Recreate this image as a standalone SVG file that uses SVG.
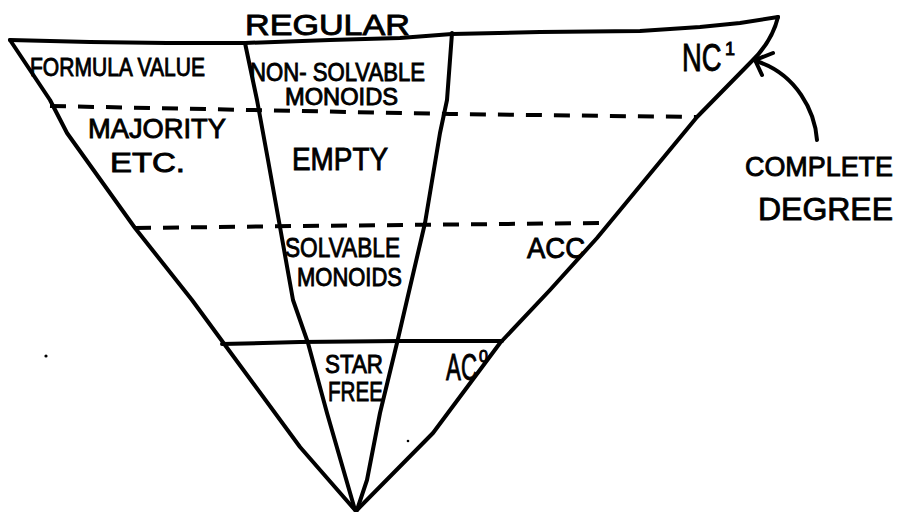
<svg xmlns="http://www.w3.org/2000/svg" width="903" height="514" viewBox="0 0 903 514">
<style>
.ln{fill:none;stroke:#000;stroke-width:4;stroke-linecap:round;stroke-linejoin:round}
.dash{fill:none;stroke:#000;stroke-width:4;stroke-dasharray:16 12;stroke-linecap:butt}
text{font-family:"Liberation Sans",Arial,sans-serif;fill:#000;stroke:#000;stroke-width:0.9}
</style>
<rect width="903" height="514" fill="#fff"/>
<g id="outline">
<polyline class="ln" points="10,40 90,42 167,43 245,43 330,40 400,38 452,34 540,32 640,31 700,27 740,23 778,17"/>
<path class="ln" d="M778,17 Q772,42 750,63 L697,117 L597,238 L550,290 L500,343 L433,433 L357,510"/>
<polyline class="ln" points="10,40 50,100 67,133 135,228 192,300 225,345 300,447 355,510"/>
<polyline class="ln" points="245,43 257,100 268,160 280,227 293,300 308,343 327,413 355,510"/>
<polyline class="ln" points="452,33 447,100 440,133 425,223 407,300 397,343 380,413 367,480 357,510"/>
<polyline class="dash" points="50,106 250,110 450,114 697,117"/>
<polyline class="dash" points="135,228 300,226 600,223"/>
<polyline class="ln" points="222,344 300,342 400,341 502,341"/>
<circle cx="46" cy="356" r="1.6" fill="#000"/>
<circle cx="408" cy="441" r="1.3" fill="#000"/>
</g>
<g id="regular"><text x="245" y="35" font-size="30" textLength="165" lengthAdjust="spacingAndGlyphs">REGULAR</text></g>
<g id="formula-value"><text x="30" y="76" font-size="25" textLength="175" lengthAdjust="spacingAndGlyphs">FORMULA VALUE</text></g>
<g id="non-solvable">
<text x="250" y="81" font-size="25" textLength="175" lengthAdjust="spacingAndGlyphs">NON- SOLVABLE</text>
<text x="285" y="105" font-size="23" textLength="113" lengthAdjust="spacingAndGlyphs">MONOIDS</text>
</g>
<g id="nc1">
<text transform="translate(682,71) scale(0.72,1)" font-size="38">NC</text>
<text x="725" y="55" font-size="18">1</text>
</g>
<g id="majority">
<text x="88" y="138" font-size="28" textLength="138" lengthAdjust="spacingAndGlyphs">MAJORITY</text>
<text x="110" y="172" font-size="28" textLength="75" lengthAdjust="spacingAndGlyphs">ETC.</text>
</g>
<g id="empty"><text x="292" y="170" font-size="31" textLength="96" lengthAdjust="spacingAndGlyphs">EMPTY</text></g>
<g id="solvable">
<text x="285" y="257" font-size="28" textLength="115" lengthAdjust="spacingAndGlyphs">SOLVABLE</text>
<text x="297" y="286" font-size="25" textLength="105" lengthAdjust="spacingAndGlyphs">MONOIDS</text>
</g>
<g id="acc"><text x="527" y="258" font-size="30" textLength="58" lengthAdjust="spacingAndGlyphs">ACC</text></g>
<g id="star-free">
<text x="325" y="373" font-size="25" textLength="58" lengthAdjust="spacingAndGlyphs">STAR</text>
<text x="328" y="401" font-size="28" textLength="55" lengthAdjust="spacingAndGlyphs">FREE</text>
</g>
<g id="ac0">
<text transform="translate(446,380) scale(0.62,1)" font-size="36">AC</text>
<text x="479" y="362" font-size="16">0</text>
</g>
<g id="complete-degree">
<text x="745" y="176" font-size="28" textLength="148" lengthAdjust="spacingAndGlyphs">COMPLETE</text>
<text x="758" y="220" font-size="32" textLength="135" lengthAdjust="spacingAndGlyphs">DEGREE</text>
</g>
<g id="connectors">
<path class="ln" d="M817,140 C815,112 797,74 756,61"/>
<polyline class="ln" points="773,53 755,60 762,75"/>
</g>
</svg>
